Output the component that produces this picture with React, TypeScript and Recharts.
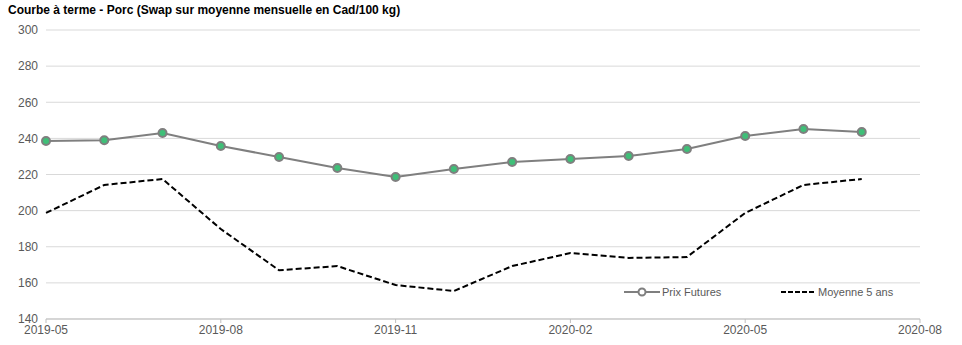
import React from "react";
import { LineChart, Line, XAxis, YAxis, CartesianGrid } from "recharts";

const months = [
  "2019-05", "2019-06", "2019-07", "2019-08", "2019-09", "2019-10", "2019-11",
  "2019-12", "2020-01", "2020-02", "2020-03", "2020-04", "2020-05", "2020-06", "2020-07",
];
const prixFutures = [238.5, 239, 243, 235.8, 229.7, 223.6, 218.6, 223, 226.9, 228.6, 230.2, 234.1, 241.3, 245.2, 243.5];
const moyenne5Ans = [198.7, 214.2, 217.5, 189.8, 167, 169.3, 158.8, 155.5, 169.3, 176.5, 173.8, 174.3, 198.7, 214.2, 217.5];
const xTickLabels = ["2019-05", "2019-08", "2019-11", "2020-02", "2020-05", "2020-08"];
const yTicks = [140, 160, 180, 200, 220, 240, 260, 280, 300];
const title = "Courbe à terme - Porc (Swap sur moyenne mensuelle en Cad/100 kg)";

const data = months.map((m, i) => ({ idx: i, month: m, prix: prixFutures[i], moy: moyenne5Ans[i] }));
const xTicks = xTickLabels.map((_, i) => i * 3);

const FONT = "'Liberation Sans', Arial, sans-serif";

export default function App() {
  return (
    <div style={{ position: "absolute", left: 0, top: 0, width: 962, height: 345, background: "#fff", fontFamily: FONT }}>
      <div style={{ position: "absolute", left: 8, top: 3, fontSize: 12, fontWeight: "bold", color: "#000", whiteSpace: "nowrap" }}>
        {title}
      </div>
      <LineChart width={962} height={345} data={data} margin={{ top: 30, right: 42, bottom: 0, left: 0 }}>
        <CartesianGrid horizontal vertical={false} stroke="#d9d9d9" />
        <XAxis
          dataKey="idx"
          type="number"
          domain={[0, 15]}
          ticks={xTicks}
          tickFormatter={(v: number) => xTickLabels[v / 3]}
          interval={0}
          height={26}
          stroke="#bfbfbf"
          tickSize={4}
          tickMargin={2}
          tick={{ fill: "#595959", fontSize: 12, fontFamily: FONT }}
        />
        <YAxis
          type="number"
          domain={[140, 300]}
          ticks={yTicks}
          width={46}
          axisLine={false}
          tickLine={false}
          interval={0}
          tick={{ fill: "#595959", fontSize: 12, fontFamily: FONT }}
        />
        <Line
          dataKey="moy"
          stroke="#000"
          strokeWidth={2}
          strokeDasharray="6 3"
          dot={false}
          isAnimationActive={false}
        />
        <Line
          dataKey="prix"
          stroke="#7f7f7f"
          strokeWidth={2}
          dot={{ r: 4, fill: "#3fbf78", stroke: "#7f7f7f", strokeWidth: 2 }}
          isAnimationActive={false}
        />
      </LineChart>
      <div style={{ position: "absolute", left: 624, top: 286, display: "flex", alignItems: "center", fontSize: 11, color: "#595959" }}>
        <svg width={36} height={12}>
          <line x1={0} y1={6} x2={36} y2={6} stroke="#7f7f7f" strokeWidth={2} />
          <circle cx={18} cy={6} r={3.5} fill="#fff" stroke="#7f7f7f" strokeWidth={2} />
        </svg>
        <span style={{ marginLeft: 2 }}>Prix Futures</span>
      </div>
      <div style={{ position: "absolute", left: 781, top: 286, display: "flex", alignItems: "center", fontSize: 11, color: "#595959" }}>
        <svg width={34} height={12}>
          <line x1={0} y1={6} x2={34} y2={6} stroke="#000" strokeWidth={2} strokeDasharray="5 2" />
        </svg>
        <span style={{ marginLeft: 3 }}>Moyenne 5 ans</span>
      </div>
    </div>
  );
}
